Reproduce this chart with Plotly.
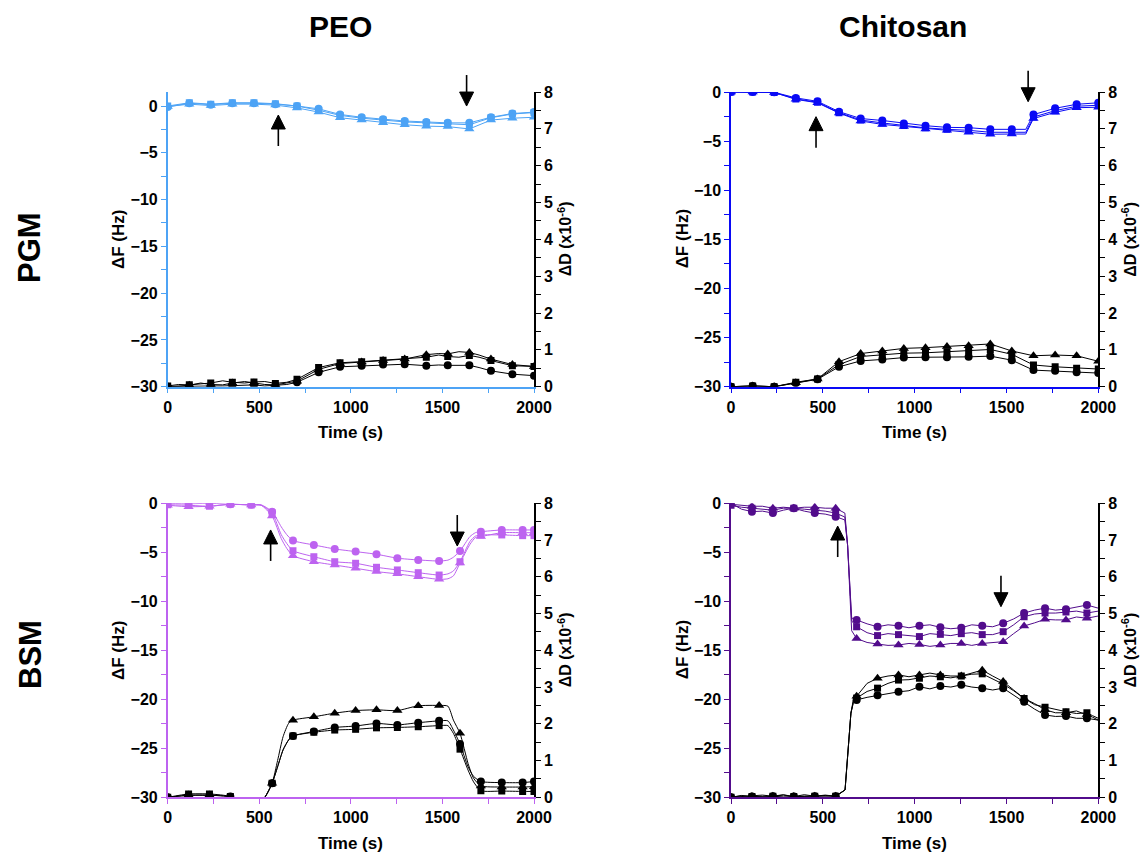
import plotly.graph_objects as go

FONT = "Liberation Sans, Arial, Helvetica, sans-serif"

# ---------------- symbol times (s) ----------------
T_PGM = [0, 118, 235, 353, 471, 588, 706, 824, 941, 1059, 1176, 1294, 1412, 1529, 1647, 1765, 1882, 2000]
T_BSM = [0, 114, 228, 342, 456, 570, 684, 798, 912, 1026, 1140, 1254, 1368, 1482, 1596, 1710, 1824, 1938]
T_PEO_BSM = [0, 114, 228, 342, 456, 570, 684, 798, 912, 1026, 1140, 1254, 1368, 1482, 1596, 1710, 1824, 1938, 2000]

# ---------------- PEO on PGM ----------------
PEO_PGM_DF_CIR = [-0.1, 0.3, 0.15, 0.3, 0.3, 0.2, 0.0, -0.3, -0.9, -1.2, -1.4, -1.6, -1.7, -1.8, -1.8, -1.2, -0.8, -0.65]
PEO_PGM_DF_SQR = [0.0, 0.35, 0.2, 0.35, 0.35, 0.25, 0.0, -0.45, -1.0, -1.3, -1.5, -1.7, -1.8, -1.9, -2.0, -1.25, -0.85, -0.7]
PEO_PGM_DF_TRI = [-0.05, 0.2, 0.05, 0.2, 0.2, 0.1, -0.2, -0.65, -1.25, -1.5, -1.8, -2.0, -2.15, -2.2, -2.45, -1.5, -1.3, -1.2]
PEO_PGM_DD_CIR = [0.0, 0.02, 0.02, 0.03, 0.05, 0.03, 0.12, 0.39, 0.54, 0.57, 0.6, 0.61, 0.57, 0.58, 0.58, 0.43, 0.34, 0.3]
PEO_PGM_DD_SQR = [0.02, 0.05, 0.1, 0.12, 0.13, 0.09, 0.2, 0.52, 0.65, 0.68, 0.72, 0.74, 0.8, 0.82, 0.85, 0.71, 0.57, 0.55]
PEO_PGM_DD_TRI = [0.0, 0.04, 0.06, 0.1, 0.1, 0.05, 0.15, 0.47, 0.63, 0.67, 0.71, 0.75, 0.87, 0.89, 0.93, 0.75, 0.6, 0.55]
# raw-trace wiggles between symbols
PEO_PGM_DD_XT = [60, 180, 300, 420, 530, 650, 1480, 1590, 1700]
PEO_PGM_DD_X_CIR = [0.01, 0.03, 0.02, 0.06, 0.02, 0.06, 0.59, 0.57, 0.52]
PEO_PGM_DD_X_SQR = [0.06, 0.08, 0.16, 0.1, 0.14, 0.12, 0.86, 0.8, 0.8]
PEO_PGM_DD_X_TRI = [0.03, 0.1, 0.05, 0.14, 0.06, 0.1, 0.9, 0.95, 0.86]

# ---------------- Chitosan on PGM ----------------
CHI_PGM_DF_CIR = [0, 0, -0.03, -0.6, -0.95, -2.0, -2.7, -2.9, -3.2, -3.43, -3.6, -3.63, -3.8, -3.8, -2.3, -1.66, -1.25, -1.1]
CHI_PGM_DF_SQR = [0, 0, -0.05, -0.7, -1.05, -2.1, -2.85, -3.15, -3.4, -3.65, -3.8, -3.9, -4.1, -4.1, -2.55, -1.9, -1.45, -1.35]
CHI_PGM_DF_TRI = [0, 0, -0.05, -0.75, -1.1, -2.15, -2.95, -3.3, -3.5, -3.77, -3.9, -4.1, -4.3, -4.28, -2.7, -2.07, -1.6, -1.55]
CHI_PGM_DF_XT = [1605]
CHI_PGM_DF_X_CIR = [-3.8]
CHI_PGM_DF_X_SQR = [-4.1]
CHI_PGM_DF_X_TRI = [-4.28]
CHI_PGM_DD_CIR = [0, 0.02, 0, 0.1, 0.2, 0.54, 0.7, 0.74, 0.79, 0.8, 0.8, 0.81, 0.83, 0.72, 0.45, 0.43, 0.39, 0.37]
CHI_PGM_DD_SQR = [0, 0.02, 0, 0.12, 0.21, 0.6, 0.82, 0.86, 0.91, 0.92, 0.95, 0.97, 1.01, 0.88, 0.59, 0.54, 0.5, 0.48]
CHI_PGM_DD_TRI = [0, 0.02, 0, 0.11, 0.21, 0.68, 0.9, 0.97, 1.04, 1.06, 1.09, 1.11, 1.16, 0.97, 0.84, 0.86, 0.84, 0.69]

# ---------------- PEO on BSM ----------------
PEO_BSM_DF_CIR = [0, -0.05, 0, -0.1, -0.15, -0.85, -3.8, -4.25, -4.66, -4.93, -5.2, -5.6, -5.78, -5.89, -4.87, -2.9, -2.72, -2.72, -2.72]
PEO_BSM_DF_SQR = [-0.15, -0.2, -0.3, -0.1, -0.17, -1.0, -4.84, -5.45, -5.96, -6.12, -6.53, -6.8, -7.08, -7.32, -5.96, -3.23, -3.23, -3.3, -3.3]
PEO_BSM_DF_TRI = [-0.2, -0.35, -0.3, -0.1, -0.17, -1.3, -5.35, -5.96, -6.3, -6.63, -6.97, -7.2, -7.49, -7.76, -6.1, -3.4, -3.0, -3.0, -3.0]
PEO_BSM_DF_XT = [510, 620, 650, 1530, 1560, 1650, 1680]
PEO_BSM_DF_X_CIR = [-0.15, -2.4, -3.2, -5.8, -5.5, -3.4, -3.0]
PEO_BSM_DF_X_SQR = [-0.2, -3.2, -4.1, -7.2, -6.9, -3.9, -3.35]
PEO_BSM_DF_X_TRI = [-0.2, -3.6, -4.6, -7.7, -7.4, -4.2, -3.5]
PEO_BSM_DD_CIR = [0, 0.05, 0.05, 0.02, -0.3, 0.38, 1.67, 1.79, 1.9, 1.94, 2.01, 1.97, 2.03, 2.08, 1.45, 0.43, 0.4, 0.4, 0.43]
PEO_BSM_DD_SQR = [0, 0.09, 0.09, 0.02, -0.3, 0.38, 1.67, 1.77, 1.83, 1.85, 1.89, 1.9, 1.92, 1.95, 1.31, 0.18, 0.17, 0.16, 0.16]
PEO_BSM_DD_TRI = [0, 0.06, 0.06, 0.0, -0.3, 0.38, 2.1, 2.19, 2.29, 2.36, 2.38, 2.36, 2.49, 2.5, 1.74, 0.31, 0.28, 0.28, 0.29]
PEO_BSM_DD_XT = [400, 530, 600, 630, 660, 1530, 1560, 1640, 1670]
PEO_BSM_DD_X_CIR = [-0.2, 0.0, 0.83, 1.29, 1.56, 2.08, 1.83, 0.83, 0.57]
PEO_BSM_DD_X_SQR = [-0.2, 0.0, 0.83, 1.29, 1.56, 1.95, 1.74, 0.74, 0.42]
PEO_BSM_DD_X_TRI = [-0.2, 0.0, 1.0, 1.65, 2.01, 2.48, 2.1, 0.92, 0.52]

# ---------------- Chitosan on BSM ----------------
CHI_BSM_DF_CIR = [0, -0.85, -1.0, -0.5, -1.0, -1.36, -11.9, -12.6, -12.5, -12.5, -12.66, -12.7, -12.5, -12.25, -11.2, -10.7, -10.8, -10.38]
CHI_BSM_DF_SQR = [-0.2, -0.5, -0.7, -0.5, -0.7, -1.0, -12.6, -13.5, -13.4, -13.6, -13.37, -13.3, -13.4, -13.1, -11.57, -11.2, -11.1, -11.2]
CHI_BSM_DF_TRI = [-0.1, -0.3, -0.5, -0.5, -0.4, -0.5, -13.8, -14.36, -14.46, -14.4, -14.46, -14.3, -14.3, -14.12, -12.52, -11.84, -11.9, -11.73]
CHI_BSM_DF_XT = [57, 171, 285, 399, 513, 620, 635, 648, 657, 741, 855, 969, 1083, 1197, 1311, 1425, 1539, 1653, 1767, 1881, 2000]
CHI_BSM_DF_X_CIR = [-0.6, -0.8, -0.7, -0.8, -1.1, -1.7, -4.3, -9.0, -11.7, -12.3, -12.4, -12.7, -12.4, -12.8, -12.4, -12.6, -11.8, -10.9, -10.9, -10.6, -10.7]
CHI_BSM_DF_X_SQR = [-0.4, -0.6, -0.5, -0.6, -0.8, -1.4, -4.3, -9.0, -12.0, -13.2, -13.3, -13.5, -13.3, -13.5, -13.2, -13.4, -12.4, -11.3, -11.2, -11.0, -11.0]
CHI_BSM_DF_X_TRI = [-0.2, -0.3, -0.4, -0.4, -0.5, -1.0, -4.3, -9.5, -13.0, -14.2, -14.5, -14.3, -14.6, -14.3, -14.5, -14.2, -13.3, -12.2, -11.9, -11.6, -11.5]
CHI_BSM_DD_CIR = [0, 0.02, 0.03, 0.02, 0.03, 0.03, 2.65, 2.78, 2.87, 3.01, 3.03, 3.06, 2.97, 2.97, 2.6, 2.24, 2.21, 2.15]
CHI_BSM_DD_SQR = [0, 0.02, 0.03, 0.02, 0.03, 0.03, 2.7, 2.97, 3.19, 3.24, 3.28, 3.3, 3.36, 3.08, 2.69, 2.45, 2.33, 2.3]
CHI_BSM_DD_TRI = [0, 0.02, 0.03, 0.02, 0.03, 0.03, 2.75, 3.24, 3.33, 3.33, 3.33, 3.3, 3.46, 3.15, 2.69, 2.38, 2.3, 2.25]
CHI_BSM_DD_XT = [57, 171, 285, 399, 513, 621, 639, 653, 666, 741, 855, 969, 1083, 1197, 1311, 1425, 1539, 1653, 1767, 1881, 1969, 2000]
CHI_BSM_DD_X_CIR = [0.05, 0.0, 0.06, 0.02, 0.05, 0.2, 1.29, 2.29, 2.56, 2.72, 2.82, 2.9, 2.95, 3.0, 3.0, 2.92, 2.78, 2.4, 2.2, 2.15, 2.12, 2.1]
CHI_BSM_DD_X_SQR = [0.02, 0.06, 0.01, 0.07, 0.02, 0.2, 1.29, 2.29, 2.6, 2.88, 3.1, 3.2, 3.3, 3.25, 3.35, 3.22, 2.9, 2.52, 2.4, 2.28, 2.22, 2.15]
CHI_BSM_DD_X_TRI = [0.04, 0.03, 0.07, 0.03, 0.06, 0.2, 1.29, 2.29, 2.65, 3.1, 3.3, 3.28, 3.38, 3.3, 3.38, 3.3, 2.92, 2.55, 2.3, 2.35, 2.18, 2.1]

# injection / rinse arrows: (time s, ΔF Hz at the tip, direction)
ARROWS_PEO_PGM = [(604, -0.96, "up"), (1632, 0.0, "down")]
ARROWS_CHI_PGM = [(463, -2.51, "up"), (1618, -0.99, "down")]
ARROWS_PEO_BSM = [(562, -2.72, "up"), (1581, -4.36, "down")]
ARROWS_CHI_BSM = [(581, -2.32, "up"), (1470, -10.55, "down")]

COL_TITLES = ["PEO", "Chitosan"]
ROW_TITLES = ["PGM", "BSM"]

W, H = 1141, 852
X_RANGE = [0, 2000]
D_RANGE = [0, 8]


def merged(t_mark, v_mark, t_extra=(), v_extra=()):
    pts = sorted(zip(list(t_mark) + list(t_extra), list(v_mark) + list(v_extra)))
    return [p[0] for p in pts], [p[1] for p in pts]


# panel geometry in pixels: (left, right, top, bottom)
PANELS = [
    dict(px=(167.7, 534.0, 92.0, 386.7), color="#4DA3F5", frange=[-30, 1.5], t=T_PGM,
         f=[PEO_PGM_DF_CIR, PEO_PGM_DF_SQR, PEO_PGM_DF_TRI], fx=None,
         d=[PEO_PGM_DD_CIR, PEO_PGM_DD_SQR, PEO_PGM_DD_TRI],
         dx=(PEO_PGM_DD_XT, [PEO_PGM_DD_X_CIR, PEO_PGM_DD_X_SQR, PEO_PGM_DD_X_TRI]),
         arrows=ARROWS_PEO_PGM, shape="linear"),
    dict(px=(731.0, 1098.3, 92.0, 386.7), color="#0A0AF5", frange=[-30, 0], t=T_PGM,
         f=[CHI_PGM_DF_CIR, CHI_PGM_DF_SQR, CHI_PGM_DF_TRI],
         fx=(CHI_PGM_DF_XT, [CHI_PGM_DF_X_CIR, CHI_PGM_DF_X_SQR, CHI_PGM_DF_X_TRI]),
         d=[CHI_PGM_DD_CIR, CHI_PGM_DD_SQR, CHI_PGM_DD_TRI], dx=None,
         arrows=ARROWS_CHI_PGM, shape="linear"),
    dict(px=(167.7, 534.0, 503.3, 797.3), color="#BD63F0", frange=[-30, 0], t=T_PEO_BSM,
         f=[PEO_BSM_DF_CIR, PEO_BSM_DF_SQR, PEO_BSM_DF_TRI],
         fx=(PEO_BSM_DF_XT, [PEO_BSM_DF_X_CIR, PEO_BSM_DF_X_SQR, PEO_BSM_DF_X_TRI]),
         d=[PEO_BSM_DD_CIR, PEO_BSM_DD_SQR, PEO_BSM_DD_TRI],
         dx=(PEO_BSM_DD_XT, [PEO_BSM_DD_X_CIR, PEO_BSM_DD_X_SQR, PEO_BSM_DD_X_TRI]),
         arrows=ARROWS_PEO_BSM, shape="spline"),
    dict(px=(731.0, 1098.3, 503.3, 797.3), color="#520C8C", frange=[-30, 0], t=T_BSM,
         f=[CHI_BSM_DF_CIR, CHI_BSM_DF_SQR, CHI_BSM_DF_TRI],
         fx=(CHI_BSM_DF_XT, [CHI_BSM_DF_X_CIR, CHI_BSM_DF_X_SQR, CHI_BSM_DF_X_TRI]),
         d=[CHI_BSM_DD_CIR, CHI_BSM_DD_SQR, CHI_BSM_DD_TRI],
         dx=(CHI_BSM_DD_XT, [CHI_BSM_DD_X_CIR, CHI_BSM_DD_X_SQR, CHI_BSM_DD_X_TRI]),
         arrows=ARROWS_CHI_BSM, shape="linear"),
]

SYMBOLS = [("circle", 8), ("square", 7), ("triangle-up", 9)]

TICK_FONT = dict(family=FONT, size=16, color="black", weight="bold")
LABEL_FONT = dict(family=FONT, size=17, color="black", weight="bold")

fig = go.Figure()
layout = dict(
    template="none",
    width=W, height=H, autosize=False,
    margin=dict(l=0, r=0, t=0, b=0, pad=0),
    paper_bgcolor="white", plot_bgcolor="white",
    showlegend=False,
    font=dict(family=FONT, size=15, color="black"),
)
annotations = []
shapes = []


def ref(prefix, n):
    return prefix if n == 1 else f"{prefix}{n}"


for i, p in enumerate(PANELS, start=1):
    L, R, T, B = p["px"]
    xd = [L / W, R / W]
    yd = [1 - B / H, 1 - T / H]
    c = p["color"]
    common = dict(showgrid=False, zeroline=False, automargin=False, tickwidth=1.3, ticklen=5)

    layout[ref("xaxis", i)] = dict(
        domain=xd, anchor=ref("y", i), range=X_RANGE, tick0=0, dtick=500, ticks="outside",
        tickcolor=c, showline=True, linecolor=c, linewidth=1.5,
        minor=dict(dtick=250, ticks="outside", ticklen=5, tickcolor=c, tickwidth=1.3),
        tickfont=TICK_FONT, **common,
    )
    layout[ref("yaxis", i)] = dict(
        domain=yd, anchor=ref("x", i), range=p["frange"], tick0=0, dtick=5, ticks="outside",
        tickcolor=c, showline=True, linecolor=c, linewidth=1.5,
        minor=dict(dtick=2.5, ticks="outside", ticklen=5, tickcolor=c, tickwidth=1.3),
        tickfont=TICK_FONT, **common,
    )
    layout[f"xaxis{i + 4}"] = dict(
        overlaying=ref("x", i), side="top", anchor=ref("y", i),
        range=X_RANGE, tick0=0, dtick=250, ticks="inside",
        tickcolor="black", showline=True, linecolor="black", linewidth=1.5,
        showticklabels=False, **common,
    )
    layout[f"yaxis{i + 4}"] = dict(
        overlaying=ref("y", i), side="right", anchor=ref("x", i),
        range=D_RANGE, tick0=0, dtick=1, ticks="outside",
        tickcolor="black", showline=True, linecolor="black", linewidth=1.5,
        minor=dict(dtick=0.5, ticks="outside", ticklen=5, tickcolor="black", tickwidth=1.3),
        tickfont=TICK_FONT, **common,
    )

    xref = ref("x", i)
    yref_l = ref("y", i)
    yref_r = f"y{i + 4}"

    # ΔF traces (left axis, panel colour)
    for k, (sym, sz) in enumerate(SYMBOLS):
        if p["fx"] is not None:
            lt, lv = merged(p["t"], p["f"][k], p["fx"][0], p["fx"][1][k])
        else:
            lt, lv = merged(p["t"], p["f"][k])
        fig.add_trace(go.Scatter(x=lt, y=lv, mode="lines", xaxis=xref, yaxis=yref_l,
                                 line=dict(color=c, width=1, shape=p["shape"], smoothing=0.6),
                                 hoverinfo="skip"))
        fig.add_trace(go.Scatter(x=p["t"], y=p["f"][k], mode="markers", xaxis=xref, yaxis=yref_l,
                                 marker=dict(symbol=sym, size=sz, color=c, line=dict(width=0))))
    # ΔD traces (right axis, black)
    for k, (sym, sz) in enumerate(SYMBOLS):
        if p["dx"] is not None:
            lt, lv = merged(p["t"], p["d"][k], p["dx"][0], p["dx"][1][k])
        else:
            lt, lv = merged(p["t"], p["d"][k])
        fig.add_trace(go.Scatter(x=lt, y=lv, mode="lines", xaxis=xref, yaxis=yref_r,
                                 line=dict(color="black", width=1, shape=p["shape"], smoothing=0.6),
                                 hoverinfo="skip"))
        fig.add_trace(go.Scatter(x=p["t"], y=p["d"][k], mode="markers", xaxis=xref, yaxis=yref_r,
                                 marker=dict(symbol=sym, size=sz, color="black", line=dict(width=0))))

    # arrows: placed on the paper so they may run past the frame; tip given in data units
    f_lo, f_hi = p["frange"]
    for (ta, fa, direction) in p["arrows"]:
        xp = (L + (ta - X_RANGE[0]) / (X_RANGE[1] - X_RANGE[0]) * (R - L)) / W
        yp = 1 - (T + (f_hi - fa) / (f_hi - f_lo) * (B - T)) / H
        s = 1 if direction == "up" else -1
        base = dict(xref="paper", yref="paper", xsizemode="pixel", ysizemode="pixel",
                    xanchor=xp, yanchor=yp, layer="above")
        shapes.append(dict(type="path", path=f"M0,0 L-7,{-14 * s} L7,{-14 * s} Z",
                           fillcolor="black", line=dict(color="black", width=1), **base))
        shapes.append(dict(type="path", path=f"M0,{-13 * s} L0,{-31 * s}",
                           line=dict(color="black", width=1.6), **base))

    # axis titles
    cx = (L + R) / 2
    cy = (T + B) / 2
    annotations.append(dict(text="Time (s)", x=cx / W, y=1 - (B + 46) / H, xref="paper", yref="paper",
                            xanchor="center", yanchor="middle", showarrow=False, font=LABEL_FONT))
    annotations.append(dict(text="ΔF (Hz)", x=(L - 49) / W, y=1 - cy / H, xref="paper", yref="paper",
                            xanchor="center", yanchor="middle", textangle=-90, showarrow=False,
                            font=LABEL_FONT))
    annotations.append(dict(text="ΔD (x10<sup>-6</sup>)", x=(R + 31) / W, y=1 - cy / H,
                            xref="paper", yref="paper", xanchor="center", yanchor="middle",
                            textangle=-90, showarrow=False,
                            font=dict(family=FONT, size=16, color="black", weight="bold")))

for j, name in enumerate(COL_TITLES):
    annotations.append(dict(text=name, x=[340, 903][j] / W, y=1 - 27 / H, xref="paper", yref="paper",
                            xanchor="center", yanchor="middle", showarrow=False,
                            font=dict(family=FONT, size=30, color="black", weight="bold")))
for j, name in enumerate(ROW_TITLES):
    annotations.append(dict(text=name, x=30 / W, y=1 - [248, 655][j] / H, xref="paper", yref="paper",
                            xanchor="center", yanchor="middle", textangle=-90, showarrow=False,
                            font=dict(family=FONT, size=31, color="black", weight="bold")))

layout["annotations"] = annotations
layout["shapes"] = shapes
fig.update_layout(**layout)
fig.write_html("out.html")
